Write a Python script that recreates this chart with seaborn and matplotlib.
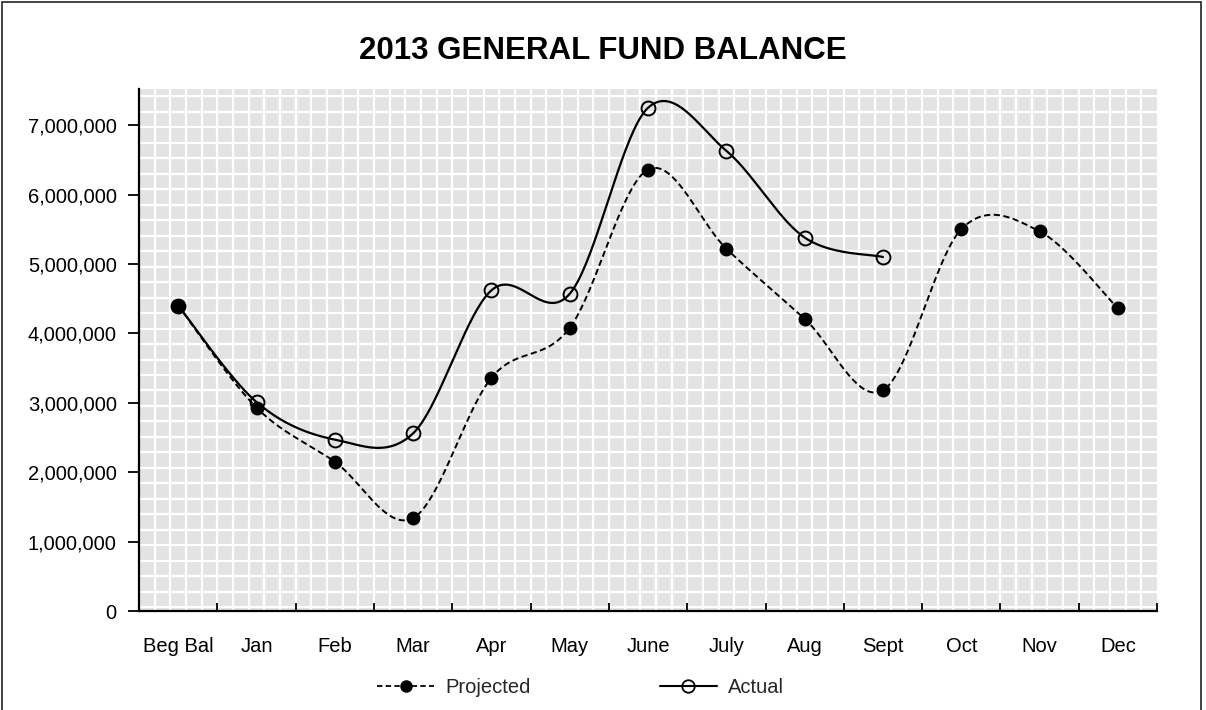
import numpy as np
import pandas as pd
import matplotlib
matplotlib.use("Agg")
import matplotlib.pyplot as plt
import matplotlib.ticker as mticker
from matplotlib.lines import Line2D
from matplotlib.patches import Rectangle
import seaborn as sns

months = ["Beg Bal", "Jan", "Feb", "Mar", "Apr", "May", "June",
          "July", "Aug", "Sept", "Oct", "Nov", "Dec"]
projected = [4400000, 2930000, 2150000, 1340000, 3360000, 4080000, 6360000,
             5220000, 4210000, 3180000, 5500000, 5470000, 4360000]
actual = [4400000, 3010000, 2470000, 2560000, 4620000, 4570000, 7250000,
          6630000, 5380000, 5100000]


def smooth_curve(y, n=40):
    # Excel style smoothing: bezier segments with catmull-rom control points
    x = np.arange(len(y), dtype=float)
    pts = np.column_stack([x, np.asarray(y, dtype=float)])
    out = []
    t = np.linspace(0, 1, n)[:, None]
    for i in range(len(pts) - 1):
        p0 = pts[i - 1] if i > 0 else pts[i]
        p1 = pts[i]
        p2 = pts[i + 1]
        p3 = pts[i + 2] if i + 2 < len(pts) else pts[i + 1]
        c1 = p1 + (p2 - p0) / 6
        c2 = p2 - (p3 - p1) / 6
        seg = ((1 - t) ** 3) * p1 + 3 * ((1 - t) ** 2) * t * c1 \
            + 3 * (1 - t) * t ** 2 * c2 + t ** 3 * p2
        out.append(seg if i == 0 else seg[1:])
    out = np.vstack(out)
    return pd.DataFrame({"x": out[:, 0], "y": out[:, 1]})


sns.set_theme(style="white")
plt.rcParams["font.family"] = ["Liberation Sans", "DejaVu Sans"]

fig = plt.figure(figsize=(12.06, 7.10), dpi=100)
ax = fig.add_axes([0.1153, 0.1394, 0.9594 - 0.1153, 0.8746 - 0.1394])
ax.set_facecolor("#e3e3e3")

# pattern fill of the plot area
for gx in np.arange(-0.3, 12.5, 0.2):
    ax.axvline(gx, color="white", lw=1.6, zorder=0)
for gy in np.arange(7414000, 0, -223000):
    ax.axhline(gy, color="white", lw=1.6, zorder=0)

proj_curve = smooth_curve(projected)
act_curve = smooth_curve(actual)
sns.lineplot(data=proj_curve, x="x", y="y", sort=False, ax=ax, color="black",
             lw=1.4, linestyle=(0, (3.2, 1.8)), zorder=3)
sns.lineplot(data=act_curve, x="x", y="y", sort=False, ax=ax, color="black",
             lw=1.6, zorder=3)

ax.plot(range(len(actual)), actual, linestyle="none", marker="o", ms=10,
        mfc="none", mec="black", mew=1.4, zorder=4)
ax.plot(range(len(projected)), projected, linestyle="none", marker="o", ms=9,
        mfc="black", mec="black", zorder=5)

ax.set_xlim(-0.5, 12.5)
ax.set_ylim(0, 7520000)
ax.set_xticks(range(len(months)))
ax.set_xticklabels(months)
ax.set_xticks(np.arange(-0.5, 13, 1), minor=True)
ax.set_yticks(np.arange(0, 7000001, 1000000))
ax.yaxis.set_major_formatter(mticker.FuncFormatter(lambda v, p: f"{int(v):,}"))
ax.tick_params(axis="x", which="major", length=0, pad=19, labelsize=14.5,
               colors="black")
ax.tick_params(axis="x", which="minor", direction="in", length=6, width=1.3,
               color="black", bottom=True)
ax.tick_params(axis="y", which="major", direction="out", length=8, width=1.3,
               pad=8, labelsize=14.5, colors="black", left=True)
ax.set_xlabel("")
ax.set_ylabel("")
for side in ["top", "right"]:
    ax.spines[side].set_visible(False)
for side in ["left", "bottom"]:
    ax.spines[side].set_color("black")
    ax.spines[side].set_linewidth(1.6)

fig.text(0.5, 0.928, "2013 GENERAL FUND BALANCE", ha="center", va="center",
         fontsize=22.5, fontweight="bold", color="black")

handles = [
    Line2D([], [], color="black", lw=1.3, linestyle=(0, (3, 1.8)), marker="o",
           ms=8, mfc="black", mec="black"),
    Line2D([], [], color="black", lw=1.5, marker="o", ms=9, mfc="none",
           mec="black", mew=1.3),
]
fig.legend(handles, ["Projected", "Actual"], loc="center",
           bbox_to_anchor=(0.4813, 0.031), ncol=2, frameon=False, fontsize=14.5,
           handlelength=2.84, handletextpad=0.55, columnspacing=6.4)

fig.patches.append(Rectangle((0.002, -0.01), 0.994, 1.007, transform=fig.transFigure,
                             fill=False, edgecolor="#222222", lw=1.2))

fig.savefig("out.png", dpi=100)
